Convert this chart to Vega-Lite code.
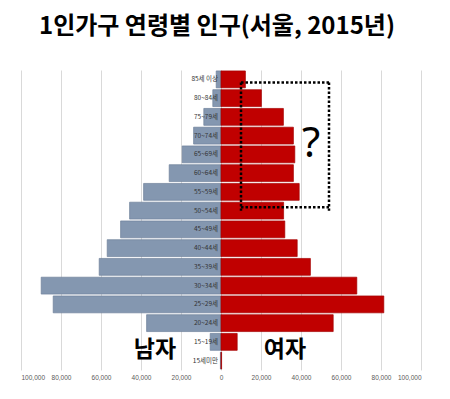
{
  "$schema": "https://vega.github.io/schema/vega-lite/v6.json",
  "autosize": "none",
  "padding": {"left": 21, "top": 70, "right": 29, "bottom": 29},
  "width": 400,
  "height": 300,
  "background": "white",
  "title": {"text": "1인가구 연령별 인구(서울, 2015년)", "font": "Noto Sans CJK KR", "fontWeight": "bold", "fontSize": 24, "color": "#000000", "anchor": "middle", "dx": -4, "offset": 31},
  "config": {"view": {"stroke": null}},
  "datasets": {
    "pop": [
      {"age": "85세 이상", "sex": "남", "pop": -2400}, {"age": "85세 이상", "sex": "여", "pop": 12200},
      {"age": "80~84세", "sex": "남", "pop": -4100}, {"age": "80~84세", "sex": "여", "pop": 20200},
      {"age": "75~79세", "sex": "남", "pop": -8600}, {"age": "75~79세", "sex": "여", "pop": 31200},
      {"age": "70~74세", "sex": "남", "pop": -13700}, {"age": "70~74세", "sex": "여", "pop": 36200},
      {"age": "65~69세", "sex": "남", "pop": -19400}, {"age": "65~69세", "sex": "여", "pop": 36900},
      {"age": "60~64세", "sex": "남", "pop": -25900}, {"age": "60~64세", "sex": "여", "pop": 36200},
      {"age": "55~59세", "sex": "남", "pop": -38700}, {"age": "55~59세", "sex": "여", "pop": 39100},
      {"age": "50~54세", "sex": "남", "pop": -45700}, {"age": "50~54세", "sex": "여", "pop": 31300},
      {"age": "45~49세", "sex": "남", "pop": -50200}, {"age": "45~49세", "sex": "여", "pop": 31900},
      {"age": "40~44세", "sex": "남", "pop": -56900}, {"age": "40~44세", "sex": "여", "pop": 38100},
      {"age": "35~39세", "sex": "남", "pop": -60900}, {"age": "35~39세", "sex": "여", "pop": 44700},
      {"age": "30~34세", "sex": "남", "pop": -89900}, {"age": "30~34세", "sex": "여", "pop": 67900},
      {"age": "25~29세", "sex": "남", "pop": -83900}, {"age": "25~29세", "sex": "여", "pop": 81400},
      {"age": "20~24세", "sex": "남", "pop": -37200}, {"age": "20~24세", "sex": "여", "pop": 56100},
      {"age": "15~19세", "sex": "남", "pop": -5400}, {"age": "15~19세", "sex": "여", "pop": 8100},
      {"age": "15세미만", "sex": "남", "pop": -300}, {"age": "15세미만", "sex": "여", "pop": 300}
    ],
    "boxTop": [{"x": 10000, "x2": 54000, "age": "85세 이상"}],
    "boxBottom": [{"x": 10000, "x2": 54000, "age": "50~54세"}],
    "boxV": [
      {"x": 10000, "age": "85세 이상", "age2": "50~54세"},
      {"x": 54000, "age": "85세 이상", "age2": "50~54세"}
    ],
    "q": [{"label": "?", "x": 45000, "age": "70~74세"}],
    "sexLabels": [
      {"label": "남자", "x": -33000, "age": "15~19세"},
      {"label": "여자", "x": 32000, "age": "15~19세"}
    ]
  },
  "layer": [
    {
      "data": {"name": "pop"},
      "mark": {"type": "bar", "strokeWidth": 0.7},
      "encoding": {
        "y": {"field": "age", "type": "nominal", "sort": null, "axis": null,
              "scale": {"domain": ["85세 이상","80~84세","75~79세","70~74세","65~69세","60~64세","55~59세","50~54세","45~49세","40~44세","35~39세","30~34세","25~29세","20~24세","15~19세","15세미만"], "paddingInner": 0.1, "paddingOuter": 0.05}},
        "x": {"field": "pop", "type": "quantitative",
              "scale": {"domain": [-100000, 100000], "nice": false},
              "axis": {"title": null, "values": [-100000, -80000, -60000, -40000, -20000, 0, 20000, 40000, 60000, 80000, 100000], "tickCount": 20, "labelExpr": "format(abs(datum.value), ',')", "labelOverlap": false, "domain": false, "ticks": false, "labelPadding": 4, "labelFontSize": 6.5, "labelColor": "#595959", "labelFont": "Liberation Sans", "gridColor": "#D9D9D9", "grid": true}},
        "fill": {"field": "sex", "type": "nominal", "legend": null, "scale": {"domain": ["남", "여"], "range": ["#8497B0", "#C00000"]}},
        "stroke": {"field": "sex", "type": "nominal", "legend": null, "scale": {"domain": ["남", "여"], "range": ["#6F819B", "#A50000"]}}
      }
    },
    {
      "data": {"name": "pop"},
      "transform": [{"filter": "datum.sex === '남'"}],
      "mark": {"type": "text", "align": "right", "baseline": "middle", "dx": -3, "fontSize": 6.5, "font": "Noto Sans CJK KR", "fill": "#333333"},
      "encoding": {
        "y": {"field": "age", "type": "nominal", "sort": null},
        "x": {"datum": 0, "type": "quantitative"},
        "text": {"field": "age"}
      }
    },
    {
      "data": {"name": "boxTop"},
      "mark": {"type": "rule", "color": "#000000", "strokeWidth": 2.5, "strokeDash": [2.5, 2]},
      "encoding": {
        "y": {"field": "age", "type": "nominal", "bandPosition": 0.68},
        "x": {"field": "x", "type": "quantitative"},
        "x2": {"field": "x2"}
      }
    },
    {
      "data": {"name": "boxBottom"},
      "mark": {"type": "rule", "color": "#000000", "strokeWidth": 2.5, "strokeDash": [2.5, 2]},
      "encoding": {
        "y": {"field": "age", "type": "nominal", "bandPosition": 0.3},
        "x": {"field": "x", "type": "quantitative"},
        "x2": {"field": "x2"}
      }
    },
    {
      "data": {"name": "boxV"},
      "mark": {"type": "rule", "color": "#000000", "strokeWidth": 2.5, "strokeDash": [2.5, 2]},
      "encoding": {
        "y": {"field": "age", "type": "nominal", "bandPosition": 0.68},
        "y2": {"field": "age2"},
        "x": {"field": "x", "type": "quantitative"}
      }
    },
    {
      "data": {"name": "q"},
      "mark": {"type": "text", "align": "center", "baseline": "middle", "font": "Noto Sans", "fontSize": 42, "fill": "#000000"},
      "encoding": {
        "y": {"field": "age", "type": "nominal", "bandPosition": 1},
        "x": {"field": "x", "type": "quantitative"},
        "text": {"field": "label"}
      }
    },
    {
      "data": {"name": "sexLabels"},
      "mark": {"type": "text", "align": "center", "baseline": "middle", "font": "Noto Sans CJK KR", "fontSize": 23, "fontWeight": "bold", "fill": "#000000"},
      "encoding": {
        "y": {"field": "age", "type": "nominal", "bandPosition": 1},
        "x": {"field": "x", "type": "quantitative"},
        "text": {"field": "label"}
      }
    }
  ]
}
